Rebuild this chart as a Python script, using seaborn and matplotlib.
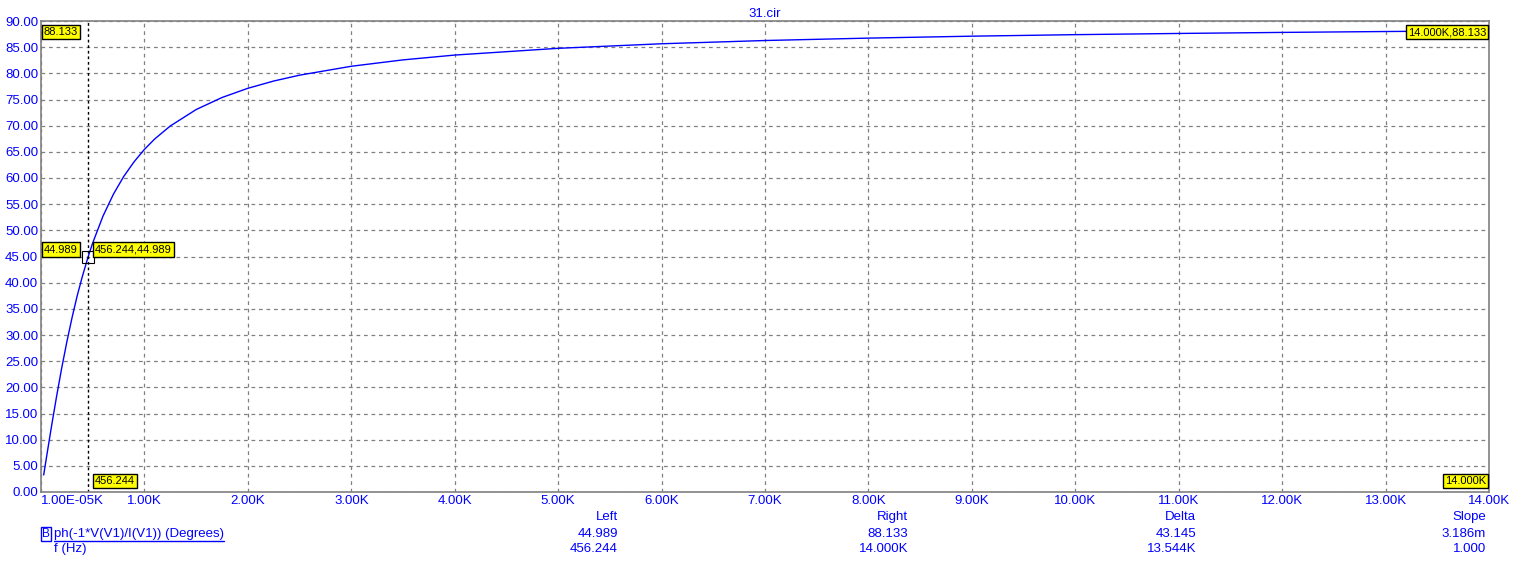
import numpy as np
import pandas as pd
import seaborn as sns
import matplotlib.pyplot as plt

# phase curve (f in Hz, phase in degrees)
freq = [26, 50, 100, 150, 200, 250, 300, 350, 400, 456.244, 500, 600, 700,
        800, 900, 1000, 1100, 1250, 1500, 1750, 2000, 2250, 2500, 3000, 3500,
        4000, 5000, 6000, 7000, 8000, 9000, 10000, 11000, 12000, 13000, 14000]
phase = [3.26, 6.25, 12.36, 18.2, 23.67, 28.7, 33.3, 37.5, 41.2, 44.989,
         47.6, 52.75, 56.9, 60.3, 63.1, 65.47, 67.47, 69.94, 73.08, 75.38,
         77.14, 78.53, 79.65, 81.35, 82.57, 83.49, 84.78, 85.65, 86.27,
         86.73, 87.10, 87.39, 87.62, 87.82, 87.99, 88.133]

x_ticks = [1e-5, 1000, 2000, 3000, 4000, 5000, 6000, 7000, 8000, 9000, 10000,
           11000, 12000, 13000, 14000]
x_labels = ["1.00E-05K", "1.00K", "2.00K", "3.00K", "4.00K", "5.00K", "6.00K",
            "7.00K", "8.00K", "9.00K", "10.00K", "11.00K", "12.00K", "13.00K",
            "14.00K"]
y_ticks = list(range(0, 91, 5))

left_x, left_y = 456.244, 44.989
right_x, right_y = 14000, 88.133

table_heads = ["Left", "Right", "Delta", "Slope"]
row_phase = ["44.989", "88.133", "43.145", "3.186m"]
row_freq = ["456.244", "14.000K", "13.544K", "1.000"]

sns.set_style("white")
plt.rcParams['font.family'] = ['Liberation Sans', 'DejaVu Sans']

blue = "#0000ff"
fs = 9.5
df = pd.DataFrame({"f": freq, "ph": phase})

fig = plt.figure(figsize=(15.23, 5.70), dpi=100)
ax = fig.add_axes([41 / 1523, 78 / 570, 1448 / 1523, 471 / 570])
sns.lineplot(data=df, x="f", y="ph", ax=ax, color=blue, lw=1)

ax.set_xlim(1e-5, 14000)
ax.set_ylim(0, 90)
ax.set_xticks(x_ticks)
ax.set_xticklabels(x_labels)
ax.set_yticks(y_ticks)
ax.set_yticklabels([f"{v:.2f}" for v in y_ticks])
ax.tick_params(length=0, labelsize=fs, labelcolor=blue, pad=2)
ax.get_xticklabels()[0].set_ha("left")
ax.set_xlabel("")
ax.set_ylabel("")
ax.grid(True, color="#808080", ls=(0, (3, 3)), lw=0.9)
for s in ax.spines.values():
    s.set_color("#808080")
    s.set_linewidth(1.2)
ax.set_title("31.cir", color=blue, fontsize=fs, pad=3)

# cursor
ax.axvline(left_x, color="black", ls=(0, (2, 2)), lw=1)
ax.plot([left_x], [left_y], marker="s", ms=8, mfc="none", mec="black", mew=0.8)

box = dict(boxstyle="square,pad=0.2", fc="yellow", ec="black", lw=1)
kw = dict(fontsize=8, color="black", bbox=box)
ax.annotate("88.133", xy=(0, 1), xycoords="axes fraction", xytext=(2, -8),
            textcoords="offset points", ha="left", va="center", **kw)
ax.annotate("14.000K,88.133", xy=(1, 1), xycoords="axes fraction",
            xytext=(-2, -8), textcoords="offset points", ha="right",
            va="center", **kw)
ax.annotate("44.989", xy=(0, left_y), xycoords=("axes fraction", "data"),
            xytext=(2, 5), textcoords="offset points", ha="left",
            va="center", **kw)
ax.annotate("456.244,44.989", xy=(left_x, left_y), xytext=(5, 5),
            textcoords="offset points", ha="left", va="center", **kw)
ax.annotate("456.244", xy=(left_x, 0), xytext=(5, 8),
            textcoords="offset points", ha="left", va="center", **kw)
ax.annotate("14.000K", xy=(1, 0), xycoords="axes fraction", xytext=(-2, 8),
            textcoords="offset points", ha="right", va="center", **kw)

# readout table under the plot
col_x = [618, 908, 1196, 1486]
for cx, h, a, b in zip(col_x, table_heads, row_phase, row_freq):
    fig.text(cx / 1523, 1 - 517 / 570, h, color=blue, fontsize=fs,
             ha="right", va="center")
    fig.text(cx / 1523, 1 - 534 / 570, a, color=blue, fontsize=fs,
             ha="right", va="center")
    fig.text(cx / 1523, 1 - 549 / 570, b, color=blue, fontsize=fs,
             ha="right", va="center")

fig.text(42 / 1523, 1 - 534 / 570, "B", color=blue, fontsize=8.5,
         ha="left", va="center",
         bbox=dict(boxstyle="square,pad=0.1", fc="none", ec=blue, lw=1))
fig.text(54 / 1523, 1 - 534 / 570, "ph(-1*V(V1)/I(V1)) (Degrees)",
         color=blue, fontsize=fs, ha="left", va="center")
fig.add_artist(plt.Line2D([54 / 1523, 224 / 1523],
                          [1 - 541 / 570, 1 - 541 / 570], color=blue, lw=1))
fig.text(54 / 1523, 1 - 549 / 570, "f (Hz)", color=blue, fontsize=fs,
         ha="left", va="center")

fig.savefig("out.png", dpi=100)
